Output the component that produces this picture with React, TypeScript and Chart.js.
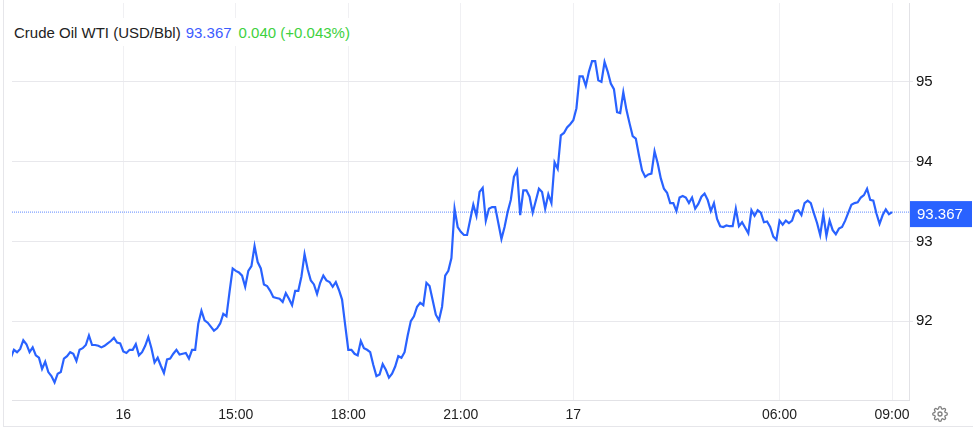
import { useEffect, useRef } from 'react'
import { Chart, registerables } from 'chart.js'

Chart.register(...registerables)

const FONT = '"Liberation Sans", Arial, sans-serif'

// one price every 5 minutes (gaps in trading hours are just not on the axis)
const prices = [
  91.54, 91.64, 91.61, 91.65, 91.76, 91.71, 91.61, 91.67, 91.57, 91.54, 91.40, 91.49, 91.36, 91.31, 91.23, 91.34,
  91.36, 91.53, 91.56, 91.61, 91.59, 91.50, 91.64, 91.66, 91.70, 91.82, 91.70, 91.70, 91.69, 91.67, 91.69, 91.72,
  91.75, 91.79, 91.73, 91.72, 91.62, 91.60, 91.64, 91.64, 91.71, 91.57, 91.61, 91.69, 91.80, 91.66, 91.48, 91.54,
  91.44, 91.35, 91.52, 91.53, 91.59, 91.64, 91.58, 91.59, 91.60, 91.53, 91.64, 91.64, 91.97, 92.13, 92.01, 91.98,
  91.93, 91.88, 91.91, 91.97, 92.09, 92.06, 92.37, 92.66, 92.63, 92.61, 92.57, 92.43, 92.63, 92.69, 92.94, 92.74,
  92.66, 92.46, 92.44, 92.38, 92.30, 92.29, 92.28, 92.24, 92.35, 92.28, 92.20, 92.38, 92.38, 92.56, 92.84, 92.65,
  92.51, 92.46, 92.34, 92.48, 92.57, 92.51, 92.49, 92.43, 92.49, 92.39, 92.27, 91.95, 91.64, 91.64, 91.59, 91.57,
  91.75, 91.66, 91.64, 91.61, 91.45, 91.31, 91.33, 91.46, 91.39, 91.29, 91.34, 91.43, 91.56, 91.54, 91.61, 91.82,
  92.00, 92.06, 92.18, 92.23, 92.20, 92.48, 92.44, 92.26, 92.08, 92.01, 92.18, 92.57, 92.63, 92.79, 93.41, 93.18,
  93.12, 93.08, 93.08, 93.27, 93.46, 93.32, 93.62, 93.67, 93.26, 93.41, 93.43, 93.43, 93.23, 93.03, 93.18, 93.37,
  93.52, 93.81, 93.89, 93.33, 93.64, 93.64, 93.56, 93.36, 93.51, 93.66, 93.62, 93.41, 93.59, 93.48, 93.99, 93.91,
  94.33, 94.36, 94.43, 94.47, 94.52, 94.67, 95.07, 95.07, 94.95, 95.13, 95.26, 95.26, 95.02, 95.00, 95.25, 95.13,
  94.98, 94.91, 94.62, 94.61, 94.87, 94.65, 94.48, 94.32, 94.29, 94.08, 93.89, 93.81, 93.84, 93.85, 94.13, 93.98,
  93.79, 93.66, 93.61, 93.48, 93.48, 93.38, 93.55, 93.57, 93.55, 93.48, 93.55, 93.41, 93.47, 93.56, 93.60, 93.52,
  93.38, 93.48, 93.28, 93.19, 93.18, 93.20, 93.19, 93.19, 93.41, 93.19, 93.24, 93.17, 93.10, 93.39, 93.32, 93.39,
  93.36, 93.24, 93.25, 93.18, 93.06, 93.02, 93.26, 93.21, 93.26, 93.23, 93.26, 93.38, 93.39, 93.33, 93.48, 93.51,
  93.48, 93.35, 93.23, 93.08, 93.34, 93.07, 93.26, 93.14, 93.09, 93.16, 93.18, 93.26, 93.36, 93.46, 93.48, 93.49,
  93.55, 93.58, 93.66, 93.52, 93.51, 93.35, 93.22, 93.33, 93.40, 93.34, 93.367,
]
const lastPrice = 93.367
const timeTicks = [36, 72, 108, 144, 180, 246, 282]
const timeLabels = ['16', '15:00', '18:00', '21:00', '17', '06:00', '09:00']
const priceTicks = [92, 93, 94, 95]

const LINE = '#2962ff'
const X_MIN = 0.38
const X_MAX = 287.42

// price tag on the right axis
const lastPriceTag = {
  id: 'lastPriceTag',
  afterDraw(chart: Chart) {
    const { ctx, scales } = chart
    const y = scales.y.getPixelForValue(lastPrice)
    ctx.save()
    ctx.fillStyle = LINE
    ctx.fillRect(910, y - 11, 62, 26)
    ctx.fillStyle = '#fff'
    ctx.font = `15px ${FONT}`
    ctx.textBaseline = 'middle'
    ctx.fillText(lastPrice.toFixed(3), 917, y + 2.5)
    ctx.restore()
  },
}

export default function App() {
  const ref = useRef<HTMLCanvasElement>(null)

  useEffect(() => {
    if (!ref.current) return
    const chart = new Chart(ref.current, {
      type: 'line',
      data: {
        datasets: [
          {
            data: prices.map((y, x) => ({ x, y })),
            borderColor: LINE,
            borderWidth: 2.2,
            pointRadius: 0,
            tension: 0,
            order: 1,
          },
          {
            data: [{ x: X_MIN, y: lastPrice }, { x: X_MAX, y: lastPrice }],
            borderColor: 'rgba(41,98,255,0.75)',
            borderWidth: 1,
            borderDash: [1, 1],
            pointRadius: 0,
            order: 2,
          },
        ],
      },
      options: {
        animation: false,
        responsive: false,
        layout: { padding: { left: 12, top: 3, right: 0, bottom: 0 } },
        plugins: { legend: { display: false }, tooltip: { enabled: false } },
        scales: {
          x: {
            type: 'linear',
            min: X_MIN,
            max: X_MAX,
            afterBuildTicks: (axis) => { axis.ticks = timeTicks.map(value => ({ value })) },
            afterFit: (axis) => { axis.height = 28 },
            grid: { color: '#f0f0f3', drawTicks: false },
            border: { color: '#e2e2e6' },
            ticks: {
              autoSkip: false,
              maxRotation: 0,
              padding: 7,
              color: '#222',
              font: { family: FONT, size: 14 },
              callback: (value) => timeLabels[timeTicks.indexOf(Number(value))],
            },
          },
          y: {
            position: 'right',
            min: 91.01,
            max: 95.99,
            afterBuildTicks: (axis) => { axis.ticks = priceTicks.map(value => ({ value })) },
            afterFit: (axis) => {
              axis.width = 65
              // no room needed above the top tick label
              axis.paddingTop = 0
              axis.paddingBottom = 0
            },
            grid: { color: '#e8e8ec', tickLength: 4 },
            border: { color: '#e2e2e6' },
            ticks: {
              padding: 3,
              color: '#111',
              font: { family: FONT, size: 15 },
              callback: (value) => String(value),
            },
          },
        },
      },
      plugins: [lastPriceTag],
    })
    return () => chart.destroy()
  }, [])

  return (
    <div style={{ position: 'absolute', left: 0, top: 0, width: 974, height: 428, background: '#fff', overflow: 'hidden', fontFamily: FONT }}>
      <canvas ref={ref} width={974} height={428} style={{ display: 'block' }} />
      <div style={{ position: 'absolute', left: 3, top: 0, width: 969, height: 426, borderLeft: '1px solid #e6e6ea', borderBottom: '1px solid #e6e6ea', pointerEvents: 'none' }} />
      <div style={{ position: 'absolute', left: 12, top: 18, width: 342, height: 28, lineHeight: '30px', background: '#fff', fontSize: 15, paddingLeft: 2, boxSizing: 'border-box', whiteSpace: 'nowrap' }}>
        <span style={{ color: '#222' }}>Crude Oil WTI (USD/Bbl)</span>
        <span style={{ color: '#3d5cff', marginLeft: 5 }}>93.367</span>
        <span style={{ color: '#3ed13e', marginLeft: 7 }}>0.040 (+0.043%)</span>
      </div>
      <svg width={16} height={16} viewBox="0 0 24 24" fill="none" stroke="#808080" strokeWidth={2} style={{ position: 'absolute', left: 932, top: 406 }}>
        <circle cx={12} cy={12} r={3} />
        <path d="M19.4 15a1.65 1.65 0 0 0 .33 1.82l.06.06a2 2 0 0 1 0 2.83 2 2 0 0 1-2.83 0l-.06-.06a1.65 1.65 0 0 0-1.82-.33 1.65 1.65 0 0 0-1 1.51V21a2 2 0 0 1-2 2 2 2 0 0 1-2-2v-.09A1.65 1.65 0 0 0 9 19.4a1.65 1.65 0 0 0-1.82.33l-.06.06a2 2 0 0 1-2.83 0 2 2 0 0 1 0-2.83l.06-.06a1.65 1.65 0 0 0 .33-1.82 1.65 1.65 0 0 0-1.51-1H3a2 2 0 0 1-2-2 2 2 0 0 1 2-2h.09A1.65 1.65 0 0 0 4.6 9a1.65 1.65 0 0 0-.33-1.82l-.06-.06a2 2 0 0 1 0-2.83 2 2 0 0 1 2.83 0l.06.06a1.65 1.65 0 0 0 1.82.33H9a1.65 1.65 0 0 0 1-1.51V3a2 2 0 0 1 2-2 2 2 0 0 1 2 2v.09a1.65 1.65 0 0 0 1 1.51 1.65 1.65 0 0 0 1.82-.33l.06-.06a2 2 0 0 1 2.83 0 2 2 0 0 1 0 2.83l-.06.06a1.65 1.65 0 0 0-.33 1.82V9a1.65 1.65 0 0 0 1.51 1H21a2 2 0 0 1 2 2 2 2 0 0 1-2 2h-.09a1.65 1.65 0 0 0-1.51 1z" />
      </svg>
    </div>
  )
}
